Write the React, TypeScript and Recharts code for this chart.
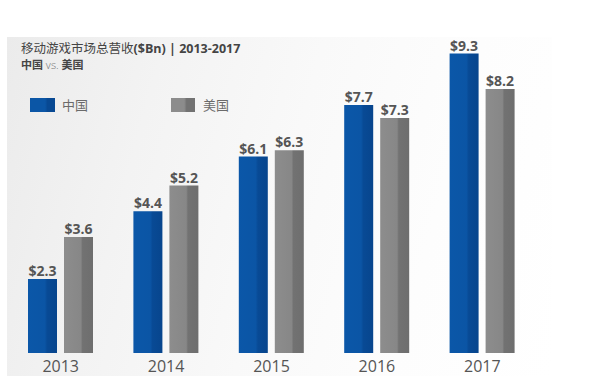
import React from 'react';
import { BarChart, Bar, XAxis, YAxis, LabelList } from 'recharts';

const years = ['2013', '2014', '2015', '2016', '2017'];
const chinaValues = [2.3, 4.4, 6.1, 7.7, 9.3];
const usaValues = [3.6, 5.2, 6.3, 7.3, 8.2];
const seriesNames = { china: '中国', usa: '美国' };

const data = years.map((y, i) => ({ year: y, china: chinaValues[i], usa: usaValues[i] }));

const CJK = '"Open Sans", "Noto Sans CJK SC", sans-serif';

export default function App() {
  return (
    <div style={{ position: 'absolute', left: 0, top: 0, width: 600, height: 390, background: '#ffffff', overflow: 'hidden' }}>
      <div style={{ position: 'absolute', left: 7, top: 37, width: 545, height: 339, background: 'linear-gradient(105deg, #ebebeb 0%, #f3f3f3 25%, #f9f9f9 50%, #fdfdfd 75%, #ffffff 100%)' }} />
      <div style={{ position: 'absolute', left: 21, top: 40, fontFamily: CJK, fontSize: 12.5, color: '#444', whiteSpace: 'nowrap', lineHeight: '18px' }}>
        <span style={{ fontWeight: 400 }}>移动游戏市场总营收</span>
        <span style={{ fontWeight: 700 }}>($Bn) | 2013-2017</span>
      </div>
      <div style={{ position: 'absolute', left: 21, top: 57, fontFamily: CJK, fontSize: 11, color: '#444', whiteSpace: 'nowrap', lineHeight: '15px' }}>
        <span style={{ fontWeight: 700 }}>中国</span>
        <span style={{ fontWeight: 300, color: '#777' }}> vs. </span>
        <span style={{ fontWeight: 700 }}>美国</span>
      </div>
      <div style={{ position: 'absolute', left: 30, top: 97, width: 250, height: 16, fontFamily: CJK }}>
        <div style={{ position: 'absolute', left: 0, top: 1, width: 25, height: 14, background: 'linear-gradient(90deg,#0b56a6 0%,#0b56a6 60%,#084993 70%,#084993 100%)' }} />
        <div style={{ position: 'absolute', left: 32, top: -1, fontSize: 13, color: '#6a6a6a', lineHeight: '18px' }}>{seriesNames.china}</div>
        <div style={{ position: 'absolute', left: 141, top: 1, width: 24, height: 14, background: 'linear-gradient(90deg,#8c8c8c 0%,#8c8c8c 55%,#727272 65%,#727272 100%)' }} />
        <div style={{ position: 'absolute', left: 173, top: -1, fontSize: 13, color: '#6a6a6a', lineHeight: '18px' }}>{seriesNames.usa}</div>
      </div>
      <div style={{ position: 'absolute', left: 0, top: 0 }}>
        <BarChart
          width={600}
          height={390}
          data={data}
          margin={{ top: 31, right: 65, bottom: 7, left: 8 }}
          barSize={29}
          barGap={7}
        >
          <defs>
            <linearGradient id="blueGrad" x1="0" y1="0" x2="1" y2="0">
              <stop offset="0%" stopColor="#0b57a8" />
              <stop offset="58%" stopColor="#0b55a5" />
              <stop offset="66%" stopColor="#084a95" />
              <stop offset="100%" stopColor="#07458d" />
            </linearGradient>
            <linearGradient id="grayGrad" x1="0" y1="0" x2="1" y2="0">
              <stop offset="0%" stopColor="#8d8d8d" />
              <stop offset="58%" stopColor="#878787" />
              <stop offset="64%" stopColor="#727272" />
              <stop offset="100%" stopColor="#6e6e6e" />
            </linearGradient>
          </defs>
          <XAxis
            dataKey="year"
            axisLine={false}
            tickLine={false}
            height={30}
            interval={0}
            tick={{ fontSize: 16, fill: '#555', fontFamily: CJK }}
          />
          <YAxis hide domain={[0, 10]} />
          <Bar dataKey="china" name={seriesNames.china} fill="url(#blueGrad)" isAnimationActive={false}>
            <LabelList
              dataKey="china"
              position="top"
              offset={3}
              formatter={(v: number) => `$${v}`}
              style={{ fontSize: 14, fontWeight: 700, fill: '#555', fontFamily: CJK }}
            />
          </Bar>
          <Bar dataKey="usa" name={seriesNames.usa} fill="url(#grayGrad)" isAnimationActive={false}>
            <LabelList
              dataKey="usa"
              position="top"
              offset={3}
              formatter={(v: number) => `$${v}`}
              style={{ fontSize: 14, fontWeight: 700, fill: '#555', fontFamily: CJK }}
            />
          </Bar>
        </BarChart>
      </div>
    </div>
  );
}
